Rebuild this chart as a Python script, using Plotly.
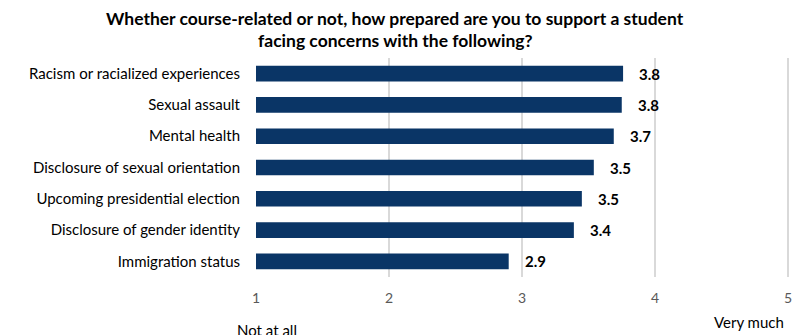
import plotly.graph_objects as go

categories = [
    "Racism or racialized experiences",
    "Sexual assault",
    "Mental health",
    "Disclosure of sexual orientation",
    "Upcoming presidential election",
    "Disclosure of gender identity",
    "Immigration status",
]
values = [3.76, 3.75, 3.69, 3.54, 3.45, 3.39, 2.90]
value_labels = ["3.8", "3.8", "3.7", "3.5", "3.5", "3.4", "2.9"]
tick_vals = [1, 2, 3, 4, 5]
tick_text = ["1", "2", "3", "4", "5"]
scale_low = "Not at all"
scale_high = "Very much"
title_lines = ["Whether course-related or not, how prepared are you to support a student",
               "facing concerns with the following?"]

FONT = "Lato"
W, H = 792, 335
ML, MR, MT, MB = 256, 0, 58, 58
PH = H - MT - MB
PW = W - ML - MR
TITLE_X = (396 - ML) / PW

fig = go.Figure()
fig.add_trace(go.Bar(
    x=values, y=categories, orientation="h",
    marker=dict(color="#0a3566", line=dict(width=0)),
    width=0.5,
    hoverinfo="skip",
))

for v, c, t in zip(values, categories, value_labels):
    fig.add_annotation(x=v, y=c, xref="x", yref="y", text=f"<b>{t}</b>",
                       showarrow=False, xanchor="left", xshift=14,
                       font=dict(family=FONT, size=15, color="#000000"))

# title
fig.add_annotation(x=TITLE_X, xref="paper", y=1 + (MT - 18) / PH, yref="paper",
                   text=f"<b>{title_lines[0]}</b>", showarrow=False,
                   xanchor="center", yanchor="middle",
                   font=dict(family=FONT, size=17.5, color="#000000"))
fig.add_annotation(x=TITLE_X, xref="paper", y=1 + (MT - 40) / PH, yref="paper",
                   text=f"<b>{title_lines[1]}</b>", showarrow=False,
                   xanchor="center", yanchor="middle",
                   font=dict(family=FONT, size=17.5, color="#000000"))

fig.add_annotation(x=1.08, y=-(330 - (H - MB)) / PH, xref="x", yref="paper",
                   yanchor="middle", text=scale_low, showarrow=False,
                   font=dict(family=FONT, size=15, color="#000000"))
fig.add_annotation(x=4.71, y=-(322 - (H - MB)) / PH, xref="x", yref="paper",
                   yanchor="middle", text=scale_high, showarrow=False,
                   font=dict(family=FONT, size=15, color="#000000"))

fig.update_layout(
    width=W, height=H,
    margin=dict(l=ML, r=MR, t=MT, b=MB),
    paper_bgcolor="white", plot_bgcolor="white",
    showlegend=False,
    xaxis=dict(range=[1, 5.015], tickvals=tick_vals, ticktext=tick_text,
               showgrid=True, gridcolor="#d9d9d9", gridwidth=1.5,
               zeroline=False, showline=False, ticks="",
               tickfont=dict(family=FONT, size=14, color="#595959"),
               ticklabelstandoff=11, ticklabeloverflow="allow"),
    yaxis=dict(categoryorder="array", categoryarray=categories[::-1],
               showgrid=False, zeroline=False, showline=False, ticks="",
               tickfont=dict(family=FONT, size=15, color="#000000"),
               ticklabelstandoff=15),
    bargap=0.5,
)

fig.write_html("out.html", config={"displayModeBar": False},
               post_script="document.body.style.margin='0';")
